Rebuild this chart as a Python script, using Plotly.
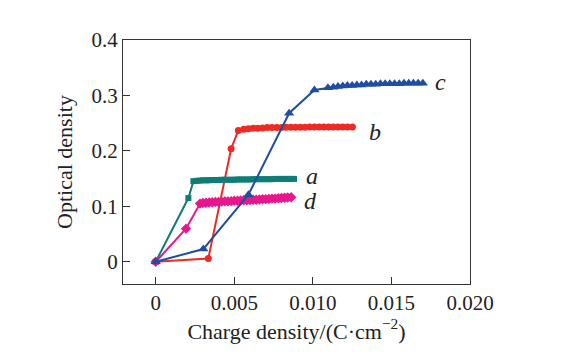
import plotly.graph_objects as go

# Series a (teal, squares)
a_x = [0, 0.00208, 0.0024, 0.0026, 0.0028, 0.0030, 0.0032, 0.0034, 0.0036, 0.0038, 0.0040,
       0.0042, 0.0044, 0.0046, 0.0048, 0.0050, 0.0052, 0.0054, 0.0056, 0.0058, 0.0060,
       0.0062, 0.0064, 0.0066, 0.0068, 0.0070, 0.0072, 0.0074, 0.0076, 0.0078, 0.0080,
       0.0082, 0.0084, 0.0086, 0.0088]
a_y = [0, 0.115, 0.1455, 0.146, 0.1465, 0.147, 0.147, 0.147, 0.1475, 0.1475, 0.1475,
       0.148, 0.148, 0.148, 0.148, 0.148, 0.1485, 0.1485, 0.1485, 0.1485, 0.1485,
       0.149, 0.149, 0.149, 0.149, 0.149, 0.149, 0.149, 0.1495, 0.1495, 0.1495,
       0.1495, 0.1495, 0.1495, 0.1495]

# Series b (red, circles)
b_x = [0, 0.00335, 0.0048, 0.00526, 0.0056, 0.0059, 0.0062, 0.0065, 0.0068, 0.0071,
       0.0074, 0.0077, 0.0080, 0.0083, 0.0086, 0.0089, 0.0092, 0.0095, 0.0098, 0.0101,
       0.0104, 0.0107, 0.0110, 0.0113, 0.0116, 0.0119, 0.0122, 0.01252]
b_y = [0, 0.006, 0.204, 0.237, 0.239, 0.240, 0.241, 0.241, 0.2415, 0.242, 0.242,
       0.242, 0.242, 0.2425, 0.2425, 0.2425, 0.2425, 0.2425, 0.243, 0.243, 0.243,
       0.243, 0.243, 0.243, 0.243, 0.243, 0.243, 0.243]

# Series c (blue, triangles)
c_x = [0, 0.00303, 0.0059, 0.00849, 0.0101, 0.01096, 0.0113, 0.0116, 0.0119, 0.0122,
       0.0125, 0.0128, 0.0131, 0.0134, 0.0137, 0.0140, 0.0143, 0.0146, 0.0149, 0.0152,
       0.0155, 0.0158, 0.0161, 0.0164, 0.0167, 0.0170]
c_y = [0, 0.023, 0.121, 0.268, 0.310, 0.314, 0.315, 0.316, 0.317, 0.318,
       0.318, 0.319, 0.319, 0.320, 0.320, 0.320, 0.321, 0.321, 0.321, 0.321,
       0.321, 0.322, 0.322, 0.322, 0.322, 0.322]

# Series d (magenta, diamonds)
d_x = [0, 0.00193, 0.00282, 0.0030, 0.0032, 0.0034, 0.0036, 0.0038, 0.0040, 0.0042,
       0.0044, 0.0046, 0.0048, 0.0050, 0.0052, 0.0054, 0.0056, 0.0058, 0.0060, 0.0062,
       0.0064, 0.0066, 0.0068, 0.0070, 0.0072, 0.0074, 0.0076, 0.0078, 0.0080, 0.0082,
       0.0084, 0.00862]
d_y = [0, 0.0598, 0.105, 0.106, 0.1065, 0.107, 0.1075, 0.108, 0.108, 0.1085,
       0.109, 0.109, 0.1095, 0.110, 0.110, 0.1105, 0.111, 0.111, 0.1115, 0.112,
       0.112, 0.1125, 0.113, 0.113, 0.1135, 0.114, 0.114, 0.1145, 0.115, 0.1155,
       0.116, 0.1165]

series_labels = ["a", "b", "c", "d"]
label_x = [0.00996, 0.01397, 0.01811, 0.00983]
label_y = [0.154, 0.234, 0.324, 0.1105]

x_ticks = [0, 0.005, 0.010, 0.015, 0.020]
x_tick_text = ["0", "0.005", "0.010", "0.015", "0.020"]
y_ticks = [0, 0.1, 0.2, 0.3, 0.4]
y_tick_text = ["0", "0.1", "0.2", "0.3", "0.4"]

teal = "#0f7d76"
red = "#ee2a24"
blue = "#1f4ea0"
magenta = "#e8168c"

fig = go.Figure()
fig.add_trace(go.Scatter(x=b_x, y=b_y, mode="lines+markers",
                         line=dict(color=red, width=2),
                         marker=dict(symbol="circle", size=7, color=red)))
fig.add_trace(go.Scatter(x=a_x, y=a_y, mode="lines+markers",
                         line=dict(color=teal, width=2),
                         marker=dict(symbol="square", size=6, color=teal)))
fig.add_trace(go.Scatter(x=d_x, y=d_y, mode="lines+markers",
                         line=dict(color=magenta, width=2),
                         marker=dict(symbol="diamond", size=8, color=magenta)))
fig.add_trace(go.Scatter(x=c_x, y=c_y, mode="lines+markers",
                         line=dict(color=blue, width=2),
                         marker=dict(symbol="triangle-up", size=9, color=blue)))

for t, lx, ly in zip(series_labels, label_x, label_y):
    fig.add_annotation(x=lx, y=ly, text="<i>" + t + "</i>", showarrow=False,
                       font=dict(family="Liberation Serif", size=24, color="#222"),
                       xanchor="center", yanchor="middle")

fig.update_layout(
    width=568, height=354,
    margin=dict(l=123, r=98, t=40, b=70),
    paper_bgcolor="white", plot_bgcolor="white",
    showlegend=False,
    font=dict(family="Liberation Serif", size=21, color="#222"),
)
fig.update_xaxes(range=[-0.00208, 0.0200], tickvals=x_ticks, ticktext=x_tick_text,
                 ticks="inside", ticklen=7, tickwidth=1.2, tickcolor="#333",
                 showline=True, linecolor="#333", linewidth=1.3, mirror=True,
                 showgrid=False, zeroline=False,
                 title=dict(text="Charge density/(C·cm<sup>−2</sup>)", font=dict(size=22), standoff=6))
fig.update_yaxes(range=[-0.04, 0.4], tickvals=y_ticks, ticktext=y_tick_text,
                 ticks="inside", ticklen=7, tickwidth=1.2, tickcolor="#333",
                 showline=True, linecolor="#333", linewidth=1.3, mirror=True,
                 showgrid=False, zeroline=False,
                 title=dict(text="Optical density", font=dict(size=22), standoff=12))

fig.write_html("out.html")
